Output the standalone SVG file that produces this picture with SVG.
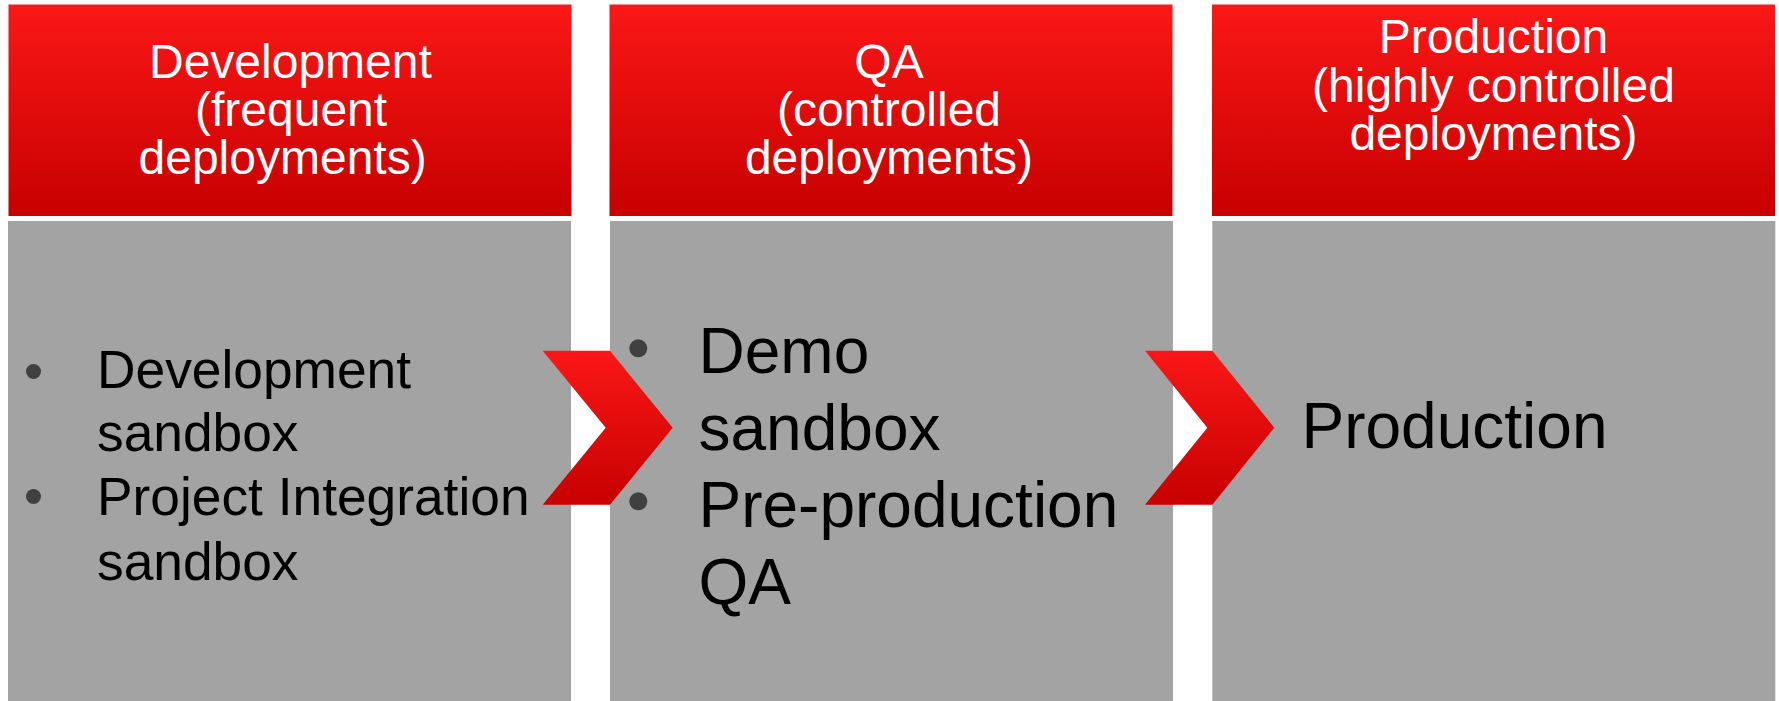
<svg xmlns="http://www.w3.org/2000/svg" width="1779" height="701" viewBox="0 0 1779 701">
<defs>
<linearGradient id="red" x1="0" y1="0" x2="0" y2="1">
<stop offset="0" stop-color="#fb1717"/>
<stop offset="1" stop-color="#c70000"/>
</linearGradient>
<style>
.hdr{fill:url(#red)}
.body{fill:#a3a3a3}
.ht{font-family:"Liberation Sans",Arial,sans-serif;font-size:48px;fill:#ffffff}
.bt{font-family:"Liberation Sans",Arial,sans-serif;fill:#000000}
.bul{fill:#404040}
.chev{fill:url(#red)}
</style>
</defs>
<rect width="1779" height="701" fill="#ffffff"/>
<g id="col-dev">
<rect class="hdr" x="8.5" y="4.5" width="563" height="211.5"/>
<rect class="body" x="8" y="221" width="563" height="480"/>
<text class="ht" x="149" y="78.3">Development</text>
<text class="ht" x="195" y="126">(frequent</text>
<text class="ht" x="138.5" y="173.5">deployments)</text>
<circle class="bul" cx="33.5" cy="371.5" r="7.5"/>
<circle class="bul" cx="33.5" cy="496.5" r="7.5"/>
<text class="bt" font-size="53.3" x="97" y="387.5">Development</text>
<text class="bt" font-size="53.3" x="97" y="451">sandbox</text>
<text class="bt" font-size="53.3" x="97" y="515">Project Integration</text>
<text class="bt" font-size="53.3" x="97" y="579.5">sandbox</text>
</g>
<g id="col-qa">
<rect class="hdr" x="609.5" y="4.5" width="563" height="211.5"/>
<rect class="body" x="610" y="221" width="563" height="480"/>
<text class="ht" x="889" y="78.3" text-anchor="middle">QA</text>
<text class="ht" x="889" y="126" text-anchor="middle">(controlled</text>
<text class="ht" x="889" y="173.5" text-anchor="middle">deployments)</text>
<circle class="bul" cx="638.3" cy="348.3" r="9"/>
<circle class="bul" cx="638.3" cy="501.3" r="9"/>
<text class="bt" font-size="64" x="698.5" y="372.7">Demo</text>
<text class="bt" font-size="64" x="698.5" y="449.5">sandbox</text>
<text class="bt" font-size="64" x="698.5" y="526.7">Pre-production</text>
<text class="bt" font-size="64" x="698.5" y="603.5">QA</text>
</g>
<g id="col-prod">
<rect class="hdr" x="1212" y="4.5" width="563" height="211.5"/>
<rect class="body" x="1212.3" y="221" width="563" height="480"/>
<text class="ht" x="1493.5" y="52.8" text-anchor="middle">Production</text>
<text class="ht" x="1493.5" y="101.5" text-anchor="middle">(highly controlled</text>
<text class="ht" x="1493.5" y="149.5" text-anchor="middle">deployments)</text>
<text class="bt" font-size="64" x="1301.5" y="448.3">Production</text>
</g>
<g id="connectors">
<polygon class="chev" points="542.7,350.7 610,350.7 672.7,427.7 610,504.7 542.7,504.7 605.7,427.7"/>
<polygon class="chev" points="1145,350.7 1212.3,350.7 1274.3,427.7 1212.3,504.7 1145,504.7 1207.3,427.7"/>
</g>
</svg>
